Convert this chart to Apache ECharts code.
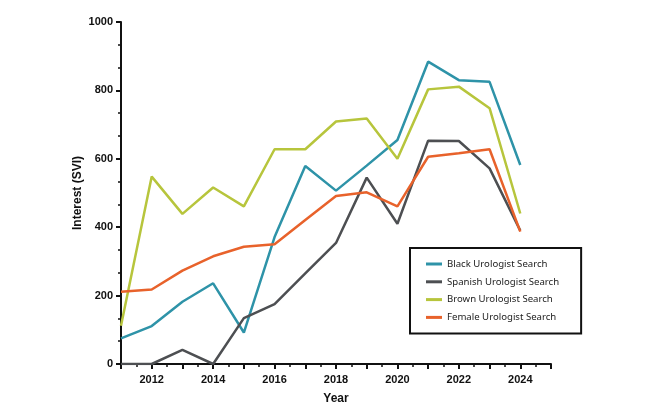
<!DOCTYPE html>
<html>
<head>
<meta charset="utf-8">
<script src="https://cdn.jsdelivr.net/npm/echarts@6/dist/echarts.min.js"></script>
<style>
html,body{margin:0;padding:0;background:#fff;}
#chart{width:650px;height:417px;}
</style>
</head>
<body>
<div id="chart"></div>
<script>
const years = [2011,2012,2013,2014,2015,2016,2017,2018,2019,2020,2021,2022,2023,2024];
const blackSearch   = [75,111,182,236,92,371,579,507,580,655,884,830,825,582];
const spanishSearch = [0,0,41,0,134,175,265,354,545,410,653,652,572,390];
const brownSearch   = [112,548,439,516,461,628,628,709,718,600,803,811,748,440];
const femaleSearch  = [211,218,273,315,343,350,421,491,502,461,606,616,628,387];
const seriesNames = ['Black Urologist Search','Spanish Urologist Search','Brown Urologist Search','Female Urologist Search'];
const seriesColors = ['#2e93a8','#4d4f52','#b7c53c','#e8622b'];
const yTicks = [0,200,400,600,800,1000];

const allData = [blackSearch, spanishSearch, brownSearch, femaleSearch];
const chart = echarts.init(document.getElementById('chart'));
const boldText = {fontFamily:'Liberation Sans', fontWeight:'bold', color:'#111', fontSize:11};
chart.setOption({
  animation:false,
  grid:{left:121, right:99, top:22, bottom:53},
  xAxis:{
    type:'value', min:2011, max:2025, interval:1,
    name:'Year', nameLocation:'middle', nameGap:29,
    nameTextStyle:Object.assign({}, boldText, {fontSize:12}),
    axisLine:{lineStyle:{color:'#111', width:2}},
    axisTick:{show:true, length:5, lineStyle:{color:'#111', width:2}},
    minorTick:{show:true, splitNumber:2, length:3, lineStyle:{color:'#111', width:1.5}},
    splitLine:{show:false},
    axisLabel:Object.assign({}, boldText, {margin:10, formatter:v => (v % 2 === 0 ? String(v) : '')})
  },
  yAxis:{
    type:'value', min:yTicks[0], max:yTicks[yTicks.length-1], interval:200,
    name:'Interest (SVI)', nameLocation:'middle', nameGap:37, nameMoveOverlap:false,
    nameTextStyle:Object.assign({}, boldText, {fontSize:12}),
    axisLine:{show:true, lineStyle:{color:'#111', width:2}},
    axisTick:{show:true, length:5, lineStyle:{color:'#111', width:2}},
    minorTick:{show:true, splitNumber:3, length:3, lineStyle:{color:'#111', width:1.5}},
    splitLine:{show:false},
    axisLabel:Object.assign({}, boldText, {margin:8, formatter:v => String(v)})
  },
  legend:{
    orient:'vertical', left:410, top:248,
    data:seriesNames,
    icon:'rect', itemWidth:16, itemHeight:3, itemGap:7.8,
    borderColor:'#111', borderWidth:2, borderRadius:0,
    padding:[11, 22, 11, 16],
    textStyle:{fontFamily:'Noto Sans', fontSize:9.6, color:'#222'}
  },
  series: seriesNames.map((n,i) => ({
    name:n, type:'line', showSymbol:false, symbol:'none',
    data: years.map((y,j) => [y, allData[i][j]]),
    lineStyle:{color:seriesColors[i], width:2.5},
    itemStyle:{color:seriesColors[i]}
  }))
});
</script>
</body>
</html>
